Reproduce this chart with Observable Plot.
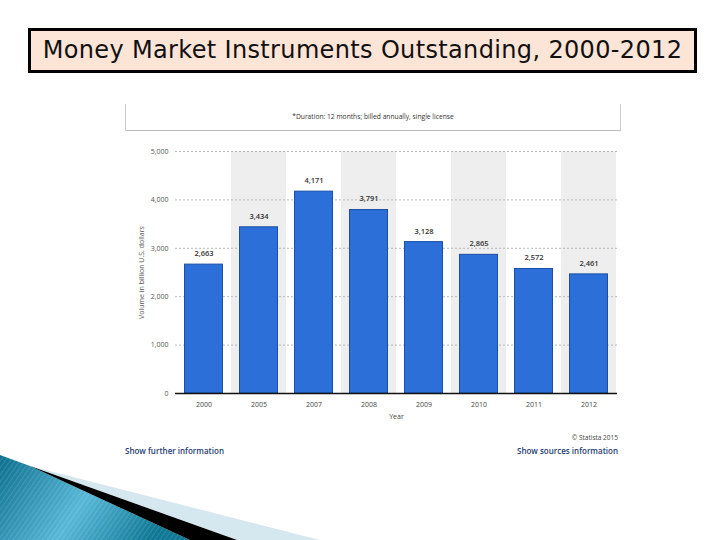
<!DOCTYPE html>
<html>
<head>
<meta charset="utf-8">
<script src="https://cdn.jsdelivr.net/npm/d3@7"></script>
<script src="https://cdn.jsdelivr.net/npm/@observablehq/plot@0.6"></script>
<style>
  html, body { margin: 0; padding: 0; background: #fff; }
  #page { position: relative; width: 720px; height: 540px; overflow: hidden; background: #fff; font-family: "DejaVu Sans", sans-serif; }
  #title { position: absolute; left: 28px; top: 28px; width: 663px; height: 39px; border: 3px solid #000; background: #fce4d6;
           font-family: "DejaVu Sans", sans-serif; font-size: 24px; letter-spacing: 0.35px; line-height: 39px; text-align: center; color: #111; white-space: nowrap; }
  #disclaimer { position: absolute; left: 125px; top: 104px; width: 494px; height: 26px; border-left: 1px solid #ccc; border-right: 1px solid #ccc; border-bottom: 1px solid #bbb;
           font-family: "Open Sans", sans-serif; font-size: 6.7px; line-height: 26px; text-align: center; color: #333; }
  #chart { position: absolute; left: 120px; top: 135px; }
  .foot { position: absolute; font-family: "Open Sans", sans-serif; white-space: nowrap; }
  #further { left: 125px; top: 445px; font-size: 8px; color: #1f3d72; font-weight: 600; }
  #copy { right: 102px; top: 433px; font-size: 6.5px; color: #444; }
  #sources { right: 102px; top: 445px; font-size: 8px; color: #1f3d72; font-weight: 600; }
  #swoosh { position: absolute; left: 0; top: 440px; }
</style>
</head>
<body>
<div id="page">
  <div id="title">Money Market Instruments Outstanding, 2000-2012</div>
  <div id="disclaimer">*Duration: 12 months; billed annually, single license</div>
  <div id="chart"></div>
  <div class="foot" id="further">Show further information</div>
  <div class="foot" id="copy">© Statista 2015</div>
  <div class="foot" id="sources">Show sources information</div>
  <svg id="swoosh" width="720" height="100" viewBox="0 440 720 100">
    <defs>
      <linearGradient id="tealGrad" x1="0" y1="0" x2="1" y2="0.3">
        <stop offset="0" stop-color="#0d6f8e"/>
        <stop offset="0.55" stop-color="#58b8d8"/>
        <stop offset="1" stop-color="#0f7895"/>
      </linearGradient>
      <pattern id="stripes" width="4" height="4" patternUnits="userSpaceOnUse" patternTransform="rotate(35)">
        <rect width="1" height="4" fill="#ffffff" opacity="0.12"/>
      </pattern>
    </defs>
    <polygon points="0,455 30,466 190,540 0,540" fill="url(#tealGrad)"/>
    <polygon points="0,455 30,466 190,540 0,540" fill="url(#stripes)"/>
    <polygon points="30,466 320,540 237,540" fill="#d6e8ef"/>
    <polygon points="30,466 237,540 190,540" fill="#000"/>
  </svg>
</div>
<script>
const years = ["2000", "2005", "2007", "2008", "2009", "2010", "2011", "2012"];
const volumes = [2663, 3434, 4171, 3791, 3128, 2865, 2572, 2461];
const yTicks = [0, 1000, 2000, 3000, 4000, 5000];
const yMax = 5000;

const data = years.map((y, i) => ({year: y, value: volumes[i]}));
const shaded = years.filter((y, i) => i % 2 === 1).map(y => ({year: y}));

const fmt = d3.format(",");

const chart = Plot.plot({
  width: 505,
  height: 295,
  marginLeft: 55,
  marginRight: 8,
  marginTop: 16,
  marginBottom: 37,
  style: {fontFamily: "'Open Sans', sans-serif", fontSize: "7px", color: "#444", background: "transparent"},
  x: {domain: years, padding: 0, label: null},
  y: {domain: [0, yMax], label: null},
  marks: [
    Plot.barY(shaded, {x: "year", y1: 0, y2: yMax, fill: "#eeeeee"}),
    Plot.gridY(yTicks.filter(t => t > 0), {stroke: "#b8b8b8", strokeOpacity: 1, strokeDasharray: "2,2"}),
    Plot.axisY({ticks: yTicks, tickFormat: fmt, tickSize: 0, tickPadding: 7, label: "Volume in billion U.S. dollars", labelAnchor: "center", labelOffset: 36, labelArrow: "none", fill: "#555"}),
    Plot.axisX({tickSize: 0, tickPadding: 9, label: "Year", labelAnchor: "center", labelOffset: 25, labelArrow: "none", fill: "#444"}),
    Plot.barY(data, {x: "year", y: "value", fill: "#2d6fd8", stroke: "#1b4fa6", strokeWidth: 1, insetLeft: 8.5, insetRight: 8.5}),
    Plot.ruleY([0], {stroke: "#111", strokeWidth: 1.5}),
    Plot.text(data, {x: "year", y: "value", text: d => fmt(d.value), dy: -11, fill: "#333", fontSize: 7.5, fontWeight: 600})
  ]
});
document.getElementById("chart").appendChild(chart);
</script>
</body>
</html>
